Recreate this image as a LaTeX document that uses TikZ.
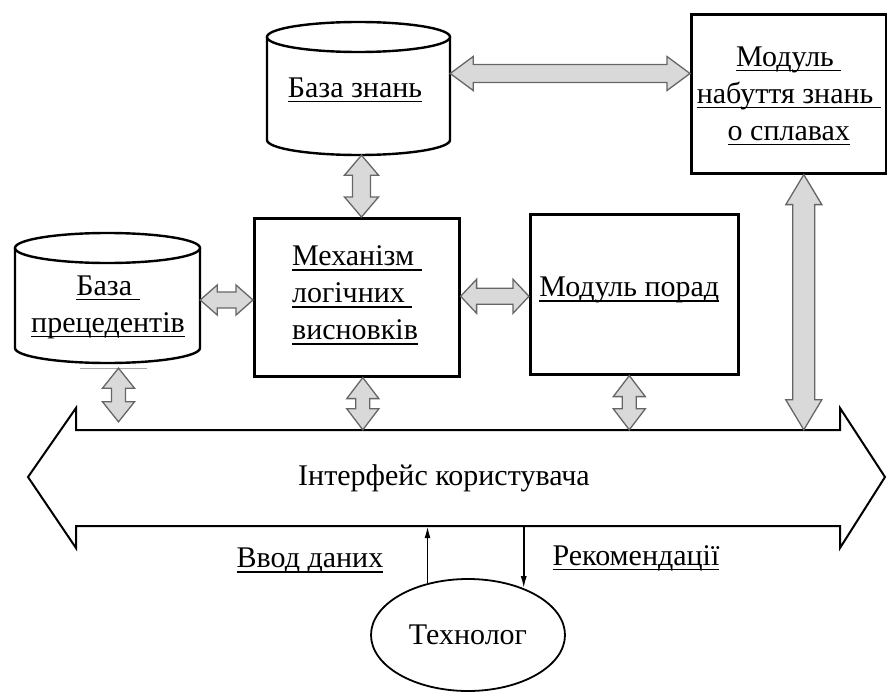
\documentclass[tikz,border=0pt]{standalone}
\usepackage{fontspec}
\setmainfont{Liberation Serif}
\usetikzlibrary{calc,arrows.meta,shapes.geometric}
\newcommand{\ulx}[1]{\setbox0\hbox{#1}\rlap{\rule[-5pt]{\wd0}{1.5pt}}\box0}
% horizontal fat double arrow from #1 (left) to #2 (right); #3 head length, #4 head half, #5 shaft half
\newcommand{\fatH}[5]{\draw[fat] (#1) -- ($(#1)+(#3,-#4)$) -- ($(#1)+(#3,-#5)$) -- ($(#2)+(-#3,-#5)$) -- ($(#2)+(-#3,-#4)$) -- (#2) -- ($(#2)+(-#3,#4)$) -- ($(#2)+(-#3,#5)$) -- ($(#1)+(#3,#5)$) -- ($(#1)+(#3,#4)$) -- cycle;}
\newcommand{\fatV}[5]{\draw[fat] (#1) -- ($(#1)+(#4,#3)$) -- ($(#1)+(#5,#3)$) -- ($(#2)+(#5,-#3)$) -- ($(#2)+(#4,-#3)$) -- (#2) -- ($(#2)+(-#4,-#3)$) -- ($(#2)+(-#5,-#3)$) -- ($(#1)+(-#5,#3)$) -- ($(#1)+(-#4,#3)$) -- cycle;}
\begin{document}
\begin{tikzpicture}[x=1pt,y=-1pt,
  box/.style={draw, line width=2.6pt, fill=white, inner sep=0pt},
  fat/.style={draw=black!60, line width=1.3pt, fill=black!15, line join=miter},
  txt/.style={font=\fontsize{30}{37}\selectfont, align=center},
  cyl/.style={draw, line width=2.4pt},
  thin/.style={line width=1.6pt, -{Latex[length=12pt,width=6pt]}}]
\useasboundingbox (0,0) rectangle (887,693);
% cylinders
\draw[cyl, fill=white] (267,37) -- (267,140) arc[start angle=180, end angle=0, x radius=91.5, y radius=15] -- (450,37);
\draw[cyl] (358.5,37) ellipse [x radius=91.5, y radius=15];
\node[minimum width=183, minimum height=133, inner sep=0pt] (kb) at (358.5,88.5) {};
\node[txt] (kbt) at (355,90) {\ulx{База знань}};
\draw[cyl, fill=white] (15,248) -- (15,348) arc[start angle=180, end angle=0, x radius=92.5, y radius=15] -- (200,248);
\draw[cyl] (107.5,248) ellipse [x radius=92.5, y radius=15];
\node[minimum width=185, minimum height=130, inner sep=0pt] (bp) at (107.5,298) {};
\node[txt] (bpt) at (108,307) {\ulx{База\ }\\\ulx{прецедентів}};
\draw[black!35, line width=1pt] (80,368) -- (147,368);
% boxes
\node[box, minimum width=195, minimum height=159, anchor=north west] (nab) at (690,13) {};
\node[txt] at ($(nab.center)+(0,2)$) {\ulx{Модуль\ }\\\ulx{набуття знань\ }\\\ulx{о сплавах}};
\node[box, minimum width=205, minimum height=158, anchor=north west] (mech) at (253,217) {};
\node[txt, align=left] at ($(mech.center)+(0,-2)$) {\ulx{Механізм\ }\\\ulx{логічних\ }\\\ulx{висновків}};
\node[box, minimum width=208, minimum height=160, anchor=north west] (porad) at (529,213) {};
\node[txt] at ($(porad.center)+(-5,-4)$) {\ulx{Модуль порад}};
% interface
\draw[line width=2pt, line join=miter, fill=white] (28,477) -- (76,408) -- (76,430) -- (840,430) -- (840,408) -- (885,477) -- (840,548) -- (840,526) -- (76,526) -- (76,548) -- cycle;
\node[minimum width=764, minimum height=96, inner sep=0pt] (iface) at (458,478) {};
\node[txt] (ifacet) at (444,478) {Інтерфейс користувача};
% technolog
\node[draw, ellipse, line width=1.8pt, minimum width=194, minimum height=112, txt] (tech) at (468,635) {Технолог};
% fat arrows
\coordinate (a1) at ($(kb.east)+(0,-15)$);
\coordinate (a1e) at (a1 -| nab.west);
\fatH{a1}{a1e}{23}{17}{9}
\coordinate (a2) at ($(mech.east)+(0,-1)$);
\coordinate (a2e) at (a2 -| porad.west);
\fatH{a2}{a2e}{16}{17}{8}
\coordinate (a3) at ($(bp.east)+(0,2)$);
\coordinate (a3e) at (a3 -| mech.west);
\fatH{a3}{a3e}{17}{15}{8}
\coordinate (v1) at ($(kb.south)+(3,0)$);
\coordinate (v1e) at (v1 |- mech.north);
\fatV{v1}{v1e}{20}{17}{9}
\coordinate (v2) at ($(bp.south)+(11,5)$);
\coordinate (v2e) at ($(v2 |- iface.north)+(0,-8)$);
\fatV{v2}{v2e}{20}{16}{7}
\coordinate (v3) at ($(mech.south)+(6,0)$);
\coordinate (v3e) at (v3 |- iface.north);
\fatV{v3}{v3e}{21}{16}{7}
\coordinate (v4) at ($(porad.south)+(-5,0)$);
\coordinate (v4e) at (v4 |- iface.north);
\fatV{v4}{v4e}{21}{16}{7}
\coordinate (v5) at ($(nab.south)+(15,0)$);
\coordinate (v5e) at (v5 |- iface.north);
\fatV{v5}{v5e}{30}{18}{11}
% thin arrows
\draw[thin] (tech.128) -- (tech.128 |- iface.south);
\draw[thin] (tech.40 |- iface.south) -- (tech.40);
\node[txt] (vvod) at (310,561) {\ulx{Ввод даних}};
\node[txt] (rek) at (636,558) {\ulx{Рекомендації}};
\end{tikzpicture}
\end{document}
